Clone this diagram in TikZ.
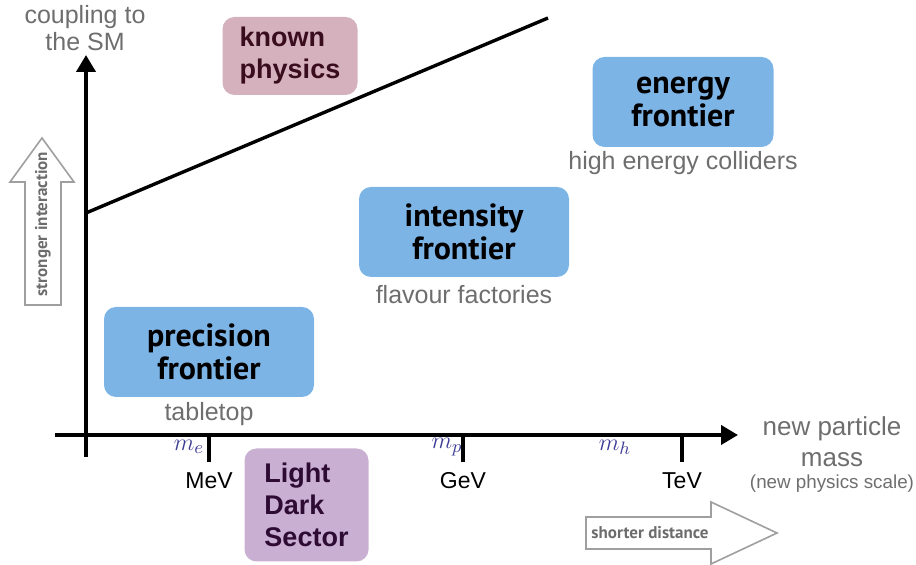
\documentclass[tikz,border=0pt]{standalone}
\usepackage{fontspec}
\setmainfont{Liberation Sans}
\newfontfamily\handfont{PT Sans}
\usetikzlibrary{arrows.meta}
\definecolor{frontblue}{HTML}{7DB4E6}
\definecolor{knownfill}{HTML}{D4B1BC}
\definecolor{knowntext}{HTML}{3A0D1E}
\definecolor{darkfill}{HTML}{C9AFD1}
\definecolor{darktext}{HTML}{2E0B33}
\definecolor{labelgray}{HTML}{6E6E6E}
\definecolor{massblue}{HTML}{3C3C96}

\begin{document}
\begin{tikzpicture}[x=0.5pt,y=-0.5pt,
    frontier/.style={fill=frontblue, rounded corners=6pt, inner sep=0pt,
        minimum width=105pt, minimum height=45pt, align=center,
        font=\handfont\bfseries\fontsize{16}{16.5}\selectfont},
    sector/.style={rounded corners=6pt, inner sep=0pt, align=left,
        font=\bfseries\fontsize{13.5}{16}\selectfont},
    graylabel/.style={text=labelgray, align=center, inner sep=0pt,
        font=\fontsize{12.5}{13.5}\selectfont},
    unit/.style={inner sep=0pt, font=\fontsize{11.5}{12}\selectfont},
    mass/.style={inner sep=0pt, text=massblue, font=\fontsize{12.5}{13}\selectfont},
    axis/.style={line width=2pt, -{Triangle[length=8.5pt,width=9.5pt]}},
    hollow/.style={draw=gray!75, line width=0.8pt, line join=miter},
    hollowtext/.style={text=gray!85!black, inner sep=0pt,
        font=\handfont\bfseries\fontsize{8.5}{9}\selectfont}]
    \useasboundingbox (0,0) rectangle (916,565);

    % axes
    \coordinate (ybot) at (86,457);
    \coordinate (ytop) at (86,55);
    \coordinate (xleft) at (55,435);
    \coordinate (xright) at (738,435);
    \draw[axis] (ybot) -- (ytop);
    \draw[axis] (xleft) -- (xright);
    \node[graylabel] (coupling) at (85,28) {coupling to\\the SM};
    \node[graylabel, font=\fontsize{13}{15.5}\selectfont] (newmass) at (832,442) {new particle\\mass};
    \node[graylabel, font=\fontsize{9.4}{10}\selectfont] (scale) at (832,484) {(new physics scale)};

    % ticks and scales
    \foreach \x/\u in {209/MeV,463/GeV,682/TeV}{
        \coordinate (t\u) at (\x,435);
        \draw[line width=2pt] (t\u) -- ++(0,27);
        \node[unit] (l\u) at (\x,481) {\u};
    }
    \node[mass] (me) at (189,447) {$m_e$};
    \node[mass] (mp) at (447,447) {$m_p$};
    \node[mass] (mh) at (615,447) {$m_h$};

    % known physics line
    \coordinate (kstart) at (86,213);
    \coordinate (kend) at (548,18);
    \draw[line width=1.7pt] (kstart) -- (kend);
    \node[sector, fill=knownfill, text=knowntext, minimum width=67.5pt, minimum height=39pt] (known) at (290,56) {known\\physics};
    \node[sector, fill=darkfill, text=darktext, minimum width=62pt, minimum height=56.5pt] (dark) at (306.5,505) {Light\\Dark\\Sector};

    % frontiers
    \node[frontier, minimum width=90.5pt] (energy) at (683,102) {energy\\frontier};
    \node[graylabel] (colliders) at (683,163) {high energy colliders};
    \node[frontier] (intensity) at (464,232) {intensity\\frontier};
    \node[graylabel] (flavour) at (464,295) {flavour factories};
    \node[frontier] (precision) at (209,352) {precision\\frontier};
    \node[graylabel] (tabletop) at (209,414) {tabletop};

    % hollow arrows
    \draw[hollow] (25,305) -- (61,305) -- (61,182) -- (74,182) -- (42,138) -- (10,182) -- (25,182) -- cycle;
    \node[hollowtext, rotate=90] (stronger) at (43,224) {stronger interaction};
    \draw[hollow] (586,517) -- (711,517) -- (711,502) -- (777,533) -- (711,564) -- (711,549) -- (586,549) -- cycle;
    \node[hollowtext] (shorter) at (650,533) {shorter distance};
\end{tikzpicture}
\end{document}
